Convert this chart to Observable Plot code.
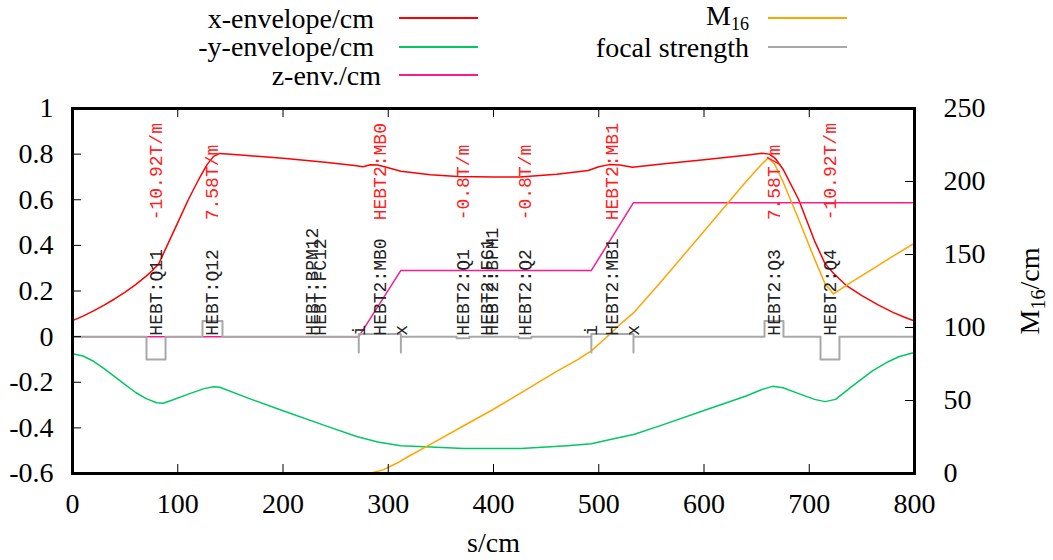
<!DOCTYPE html>
<html>
<head>
<meta charset="utf-8">
<script src="https://cdn.jsdelivr.net/npm/d3@7"></script>
<script src="https://cdn.jsdelivr.net/npm/@observablehq/plot@0.6"></script>
<style>
  body { margin: 0; background: white; }
  #chart { position: relative; width: 1053px; height: 560px; background: white; }
  #legend { position: absolute; left: 0; top: 0; width: 1053px; height: 90px;
            font-family: "Liberation Serif", "Times New Roman", Times, Tinos, "Noto Serif", "DejaVu Serif", serif; font-size: 28px; color: black; }
  .lt { position: absolute; line-height: 28px; white-space: nowrap; }
  .ls { position: absolute; height: 2px; }
  #plot { position: absolute; left: 0; top: 90px; }
</style>
</head>
<body>
<div id="chart">
  <div id="legend"></div>
  <div id="plot"></div>
</div>
<script>
// ---- data ----
const xTicks = [0, 100, 200, 300, 400, 500, 600, 700, 800];
const yTicks = [-0.6, -0.4, -0.2, 0, 0.2, 0.4, 0.6, 0.8, 1];
const m16Ticks = [0, 50, 100, 150, 200, 250];

// x-envelope/cm
const xEnvS = [0, 10, 20, 30, 40, 50, 60, 70, 76, 82, 90, 100, 110, 120, 128, 134, 140, 160, 200, 240, 268, 276, 283, 290, 300, 312, 340, 366, 400, 425, 460, 490, 500, 510, 520, 532, 560, 600, 640, 655, 662, 668, 675, 690, 705, 715, 723, 735, 750, 765, 780, 790, 798];
const xEnvV = [0.07, 0.09, 0.113, 0.138, 0.165, 0.195, 0.228, 0.265, 0.29, 0.32, 0.40, 0.50, 0.60, 0.69, 0.755, 0.79, 0.803, 0.796, 0.782, 0.764, 0.75, 0.745, 0.753, 0.752, 0.74, 0.725, 0.71, 0.702, 0.70, 0.70, 0.712, 0.728, 0.745, 0.754, 0.752, 0.742, 0.757, 0.775, 0.795, 0.804, 0.80, 0.78, 0.735, 0.60, 0.42, 0.32, 0.278, 0.225, 0.18, 0.14, 0.105, 0.086, 0.072];

// -y-envelope/cm
const yEnvS = [0, 10, 20, 30, 40, 50, 60, 70, 80, 86, 95, 110, 125, 134, 140, 170, 200, 240, 270, 290, 312, 340, 372, 426, 470, 493, 512, 534, 560, 600, 640, 655, 665, 675, 690, 705, 715, 725, 740, 760, 775, 785, 798];
const yEnvV = [-0.075, -0.085, -0.108, -0.14, -0.175, -0.21, -0.245, -0.272, -0.29, -0.292, -0.278, -0.252, -0.228, -0.22, -0.222, -0.275, -0.325, -0.39, -0.438, -0.462, -0.478, -0.484, -0.49, -0.49, -0.478, -0.47, -0.45, -0.428, -0.388, -0.324, -0.26, -0.232, -0.218, -0.224, -0.25, -0.275, -0.285, -0.275, -0.22, -0.15, -0.11, -0.088, -0.072];

// z-env./cm
const zEnvS = [0, 272, 312, 493, 533, 798];
const zEnvV = [0, 0, 0.29, 0.29, 0.587, 0.587];

// M16 (right axis units)
const m16S = [282, 295, 308, 320, 340, 370, 400, 430, 460, 480, 493, 510, 520, 533, 560, 600, 640, 655, 661, 667, 675, 690, 705, 715, 723, 740, 760, 780, 798];
const m16V = [0, 2.5, 7, 12, 20, 32, 44, 57, 70, 78, 84, 95, 102, 110, 132, 166, 200, 212, 216, 212, 200, 174, 147, 130, 123, 131, 140, 149, 157];

// focal strength (scaled, plotted on left axis)
const focS = [0, 70.3, 70.3, 88.4, 88.4, 123.5, 123.5, 142.5, 142.5, 272, 272, 272, 312, 312, 312, 365, 365, 377, 377, 424, 424, 436, 436, 493, 493, 493, 533, 533, 533, 657.5, 657.5, 675.5, 675.5, 710.7, 710.7, 728.7, 728.7, 798];
const focV = [0, 0, -0.1, -0.1, 0, 0, 0.069, 0.069, 0, 0, -0.07, 0.012, 0.012, -0.07, 0, 0, -0.007, -0.007, 0, 0, -0.007, -0.007, 0, 0, -0.07, 0.012, 0.012, -0.07, 0, 0, 0.069, 0.069, 0, 0, -0.1, -0.1, 0, 0];

// element labels
const elemNames = ["HEBT:Q11", "HEBT:Q12", "HEBT:BPM12", "HEBT:FC12", "HEBT2:MB0", "HEBT2:Q1", "HEBT2:FC1", "HEBT2:BPM1", "HEBT2:Q2", "HEBT2:MB1", "HEBT2:Q3", "HEBT2:Q4", "i", "x", "i", "x"];
const elemS = [79.4, 133, 228, 235, 292, 371, 394, 399, 430, 513, 666.5, 719.7, 272, 312, 493, 533];
const strengthNames = ["-10.92T/m", "7.58T/m", "HEBT2:MB0", "-0.8T/m", "-0.8T/m", "HEBT2:MB1", "7.58T/m", "-10.92T/m"];
const strengthS = [79.4, 133, 292, 371, 430, 513, 666.5, 719.7];

const seriesNames = ["x-envelope/cm", "-y-envelope/cm", "z-env./cm", "M16", "focal strength"];
const seriesColors = ["#ff0000", "#00c864", "#ff1a8c", "#ffa500", "#a8a8a8"];

// ---- helpers ----
const toLeft = v => -0.6 + v * 1.6 / 250;
const fromLeft = y => Math.round((y + 0.6) * 250 / 1.6);
const fmtLeft = d => String(+d.toFixed(1));

// ---- legend ----
const legend = document.getElementById("legend");
const legendPos = [
  {right: 374, top: 4.6, lx: 399, ly: 17},
  {right: 374, top: 33, lx: 399, ly: 46},
  {right: 381, top: 61.6, lx: 399, ly: 74},
  {right: 749, top: 2, lx: 768, ly: 17},
  {right: 749, top: 34, lx: 768, ly: 46}
];
seriesNames.forEach((name, i) => {
  const p = legendPos[i];
  const t = document.createElement("div");
  t.className = "lt";
  t.style.right = (1053 - p.right) + "px";
  t.style.top = p.top + "px";
  if (name === "M16") {
    t.innerHTML = 'M<span style="font-size:18px;line-height:14px;position:relative;top:5px">16</span>';
  } else {
    t.textContent = name;
  }
  legend.appendChild(t);
  const l = document.createElement("div");
  l.className = "ls";
  l.style.left = p.lx + "px";
  l.style.top = p.ly + "px";
  l.style.width = "79px";
  l.style.background = seriesColors[i];
  legend.appendChild(l);
});

// ---- plot ----
const W = 1053, H = 470, mt = 18, mb = 87, ml = 72, mr = 139;
const fw = W - ml - mr, fh = H - mt - mb, tl = 9;
const serif = "'Liberation Serif', 'Times New Roman', Times, Tinos, 'Noto Serif', 'DejaVu Serif', serif";
const mono = "'Liberation Mono', 'Courier New', Courier, Cousine, 'DejaVu Sans Mono', monospace";

const chart = Plot.plot({
  width: W, height: H,
  marginTop: mt, marginBottom: mb, marginLeft: ml, marginRight: mr,
  x: {domain: [0, 800]},
  y: {domain: [-0.6, 1]},
  style: {fontFamily: serif, fontSize: "28px", background: "white", color: "black"},
  marks: [
    Plot.line(xEnvS, {x: xEnvS, y: xEnvV, stroke: seriesColors[0], strokeWidth: 1.5}),
    Plot.line(yEnvS, {x: yEnvS, y: yEnvV, stroke: seriesColors[1], strokeWidth: 1.5}),
    Plot.line(zEnvS, {x: zEnvS, y: zEnvV, stroke: seriesColors[2], strokeWidth: 1.5}),
    Plot.line(m16S, {x: m16S, y: m16V.map(toLeft), stroke: seriesColors[3], strokeWidth: 1.5}),
    Plot.line(focS, {x: focS, y: focV, stroke: seriesColors[4], strokeWidth: 2}),
    Plot.text(elemNames, {x: elemS, y: 0, text: d => d, rotate: -90, textAnchor: "start", lineAnchor: "middle",
      fontFamily: mono, fontSize: 18, fill: "#222", dy: -1}),
    Plot.text(strengthNames, {x: strengthS, y: 0.51, text: d => d, rotate: -90, textAnchor: "start", lineAnchor: "middle",
      fontFamily: mono, fontSize: 18, fill: "#ff2020"}),
    Plot.tickX(xTicks, {x: d => d, insetTop: fh - tl, stroke: "black", strokeWidth: 1}),
    Plot.tickX(xTicks, {x: d => d, insetBottom: fh - tl, stroke: "black", strokeWidth: 1}),
    Plot.tickY(yTicks, {y: d => d, insetRight: fw - tl, stroke: "black", strokeWidth: 1}),
    Plot.tickY(m16Ticks, {y: d => toLeft(d), insetLeft: fw - tl, stroke: "black", strokeWidth: 1}),
    Plot.axisX(xTicks, {tickSize: 0, tickPadding: 20, fontSize: 28, fontFamily: serif, label: null, tickFormat: d => String(d)}),
    Plot.axisY(yTicks, {anchor: "left", tickSize: 0, tickPadding: 19, fontSize: 28, fontFamily: serif, label: null, tickFormat: fmtLeft}),
    Plot.axisY(m16Ticks.map(toLeft), {anchor: "right", tickSize: 0, tickPadding: 29, fontSize: 28, fontFamily: serif, label: null, tickFormat: fromLeft}),
    Plot.text(["s/cm"], {frameAnchor: "bottom", dy: 70, text: d => d, fontSize: 28, fontFamily: serif, fill: "black", lineAnchor: "middle"}),
    Plot.text(["M16/cm"], {frameAnchor: "right", dx: 116, text: d => d, rotate: -90, fontSize: 28, fontFamily: serif, fill: "black", lineAnchor: "middle", textAnchor: "middle"}),
    Plot.frame({stroke: "black", strokeWidth: 3})
  ]
});

// subscript in the right axis title
d3.select(chart).selectAll("text").each(function() {
  if (this.textContent === "M16/cm") {
    const t = d3.select(this);
    t.text(null);
    t.append("tspan").text("M");
    t.append("tspan").attr("dy", 6).attr("font-size", 20).text("16");
    t.append("tspan").attr("dy", -6).text("/cm");
  }
});

document.getElementById("plot").appendChild(chart);
</script>
</body>
</html>
